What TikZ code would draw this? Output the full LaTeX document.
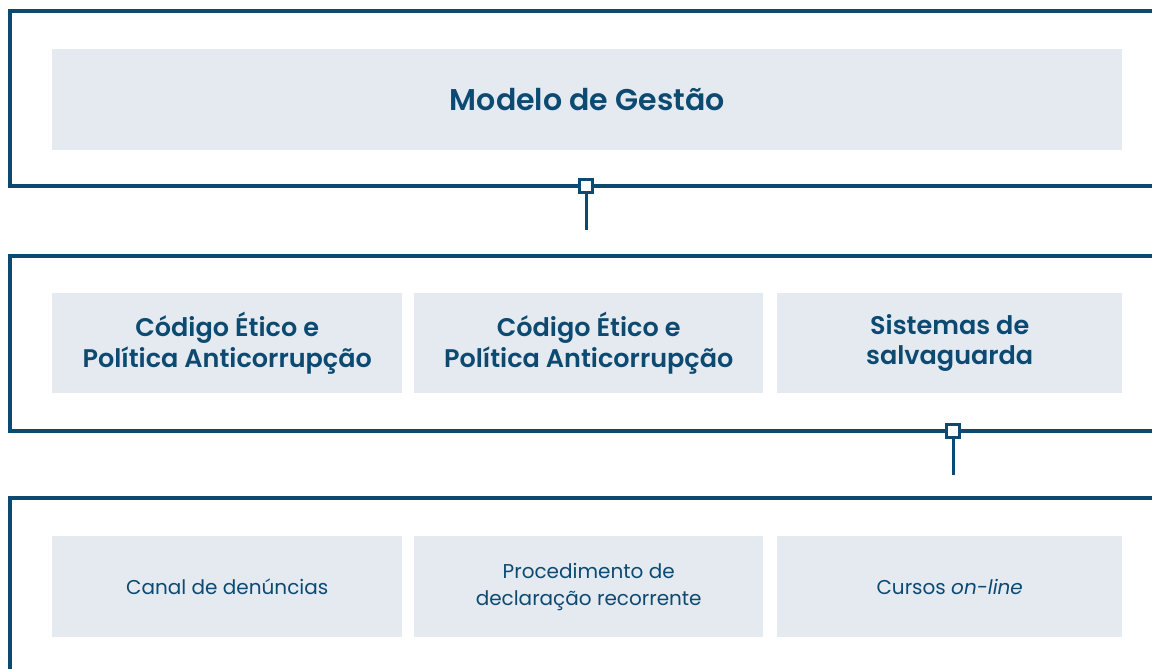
\documentclass[tikz,border=0pt]{standalone}
\usepackage{fontspec}
\setmainfont{Poppins}[BoldFont={Poppins SemiBold}]
\definecolor{navy}{HTML}{0C4A72}
\definecolor{boxfill}{HTML}{E5EAF1}
\begin{document}
\begin{tikzpicture}[x=1pt,y=-1pt,
  frame/.style={draw=navy,line width=4pt},
  card/.style={fill=boxfill,inner sep=0pt,text=navy,align=center,anchor=north west},
  big/.style={card,font=\fontsize{30}{34}\selectfont\bfseries},
  mid/.style={card,font=\fontsize{25.5}{30.5}\selectfont\bfseries},
  small/.style={card,font=\fontsize{20}{27}\selectfont},
  joint/.style={draw=navy,fill=white,line width=3pt,minimum size=13pt,inner sep=0pt},
  link/.style={draw=navy,line width=3pt}]
\useasboundingbox (0,0) rectangle (1152,669);
\begin{scope}
\clip (0,0) rectangle (1152,669);
% frames
\draw[frame] (1160,11) -- (10,11) -- (10,186) -- (1160,186);
\draw[frame] (1160,256) -- (10,256) -- (10,431) -- (1160,431);
\draw[frame] (1160,498) -- (10,498) -- (10,680);
\end{scope}
% top card
\node[big,minimum width=1070pt,minimum height=101pt] (mg) at (52,49) {Modelo de Gestão};
% second row
\node[mid,minimum width=350pt,minimum height=100pt] (c1) at (52,293) {Código Ético e\\Política Anticorrupção};
\node[mid,minimum width=349pt,minimum height=100pt] (c2) at (414,293) {Código Ético e\\Política Anticorrupção};
\node[mid,minimum width=345pt,minimum height=100pt] (c3) at (777,293) {Sistemas de\\salvaguarda};
% third row
\node[small,minimum width=350pt,minimum height=101pt] (d1) at (52,536) {Canal de denúncias};
\node[small,minimum width=349pt,minimum height=101pt] (d2) at (414,536) {Procedimento de\\declaração recorrente};
\node[small,minimum width=345pt,minimum height=101pt] (d3) at (777,536) {Cursos \textit{on-line}};
% connectors
\coordinate (e1) at (586,230);
\coordinate (e2) at (953,475);
\node[joint] (j1) at (586,186) {};
\node[joint] (j2) at (953,431) {};
\draw[link] (j1.south) -- (e1);
\draw[link] (j2.south) -- (e2);
\end{tikzpicture}
\end{document}
